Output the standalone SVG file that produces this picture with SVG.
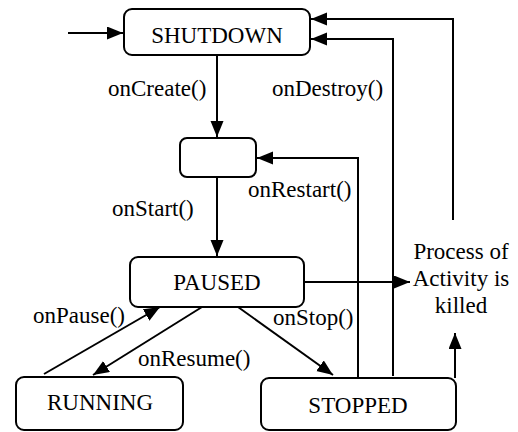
<svg xmlns="http://www.w3.org/2000/svg" width="518" height="432" viewBox="0 0 518 432">
<style>
.box{fill:#fff;stroke:#000;stroke-width:2}
.t{font-family:'Liberation Serif','Times New Roman',serif;font-size:23px;fill:#000}
.m{text-anchor:middle}
.c{fill:none;stroke:#000;stroke-width:2}
</style>
<defs>
<marker id="ah" markerUnits="userSpaceOnUse" markerWidth="17" markerHeight="14" refX="16" refY="6.5" orient="auto">
<path d="M0,0 L16,6.5 L0,13 z" fill="#000"/>
</marker>
</defs>
<rect width="518" height="432" fill="#fff"/>
<g id="connectors">
<path class="c" d="M68,33 H123" marker-end="url(#ah)"/>
<path class="c" d="M217,55 V137" marker-end="url(#ah)"/>
<path class="c" d="M217,177 V256" marker-end="url(#ah)"/>
<path class="c" d="M304,282 H410" marker-end="url(#ah)"/>
<path class="c" d="M44,374 L160,307" marker-end="url(#ah)"/>
<path class="c" d="M202,307 L93,375" marker-end="url(#ah)"/>
<path class="c" d="M238,307 L333,375" marker-end="url(#ah)"/>
<path class="c" d="M358,378 V158 H257" marker-end="url(#ah)"/>
<path class="c" d="M393,376 V39 H311" marker-end="url(#ah)"/>
<path class="c" d="M453,220 V19 H311" marker-end="url(#ah)"/>
<path class="c" d="M455,378 V333" marker-end="url(#ah)"/>
<text class="t" x="108" y="96">onCreate()</text>
<text class="t" x="112" y="216">onStart()</text>
<text class="t" x="272" y="96">onDestroy()</text>
<text class="t" x="248" y="197">onRestart()</text>
<text class="t" x="33" y="323">onPause()</text>
<text class="t" x="138" y="366">onResume()</text>
<text class="t" x="273" y="325">onStop()</text>
</g>
<g id="shutdown">
<rect class="box" x="124" y="9" width="186" height="46" rx="8"/>
<text class="t m" x="217" y="43">SHUTDOWN</text>
</g>
<g id="created">
<rect class="box" x="180" y="138" width="76" height="39" rx="7"/>
</g>
<g id="paused">
<rect class="box" x="130" y="257" width="174" height="50" rx="8"/>
<text class="t m" x="217" y="290">PAUSED</text>
</g>
<g id="running">
<rect class="box" x="16" y="377" width="167" height="53" rx="8"/>
<text class="t m" x="100" y="410">RUNNING</text>
</g>
<g id="stopped">
<rect class="box" x="261" y="378" width="195" height="52" rx="8"/>
<text class="t m" x="358" y="413">STOPPED</text>
</g>
<g id="killed">
<text class="t m" x="461" y="259">Process of</text>
<text class="t m" x="461" y="286">Activity is</text>
<text class="t m" x="461" y="313">killed</text>
</g>
</svg>
